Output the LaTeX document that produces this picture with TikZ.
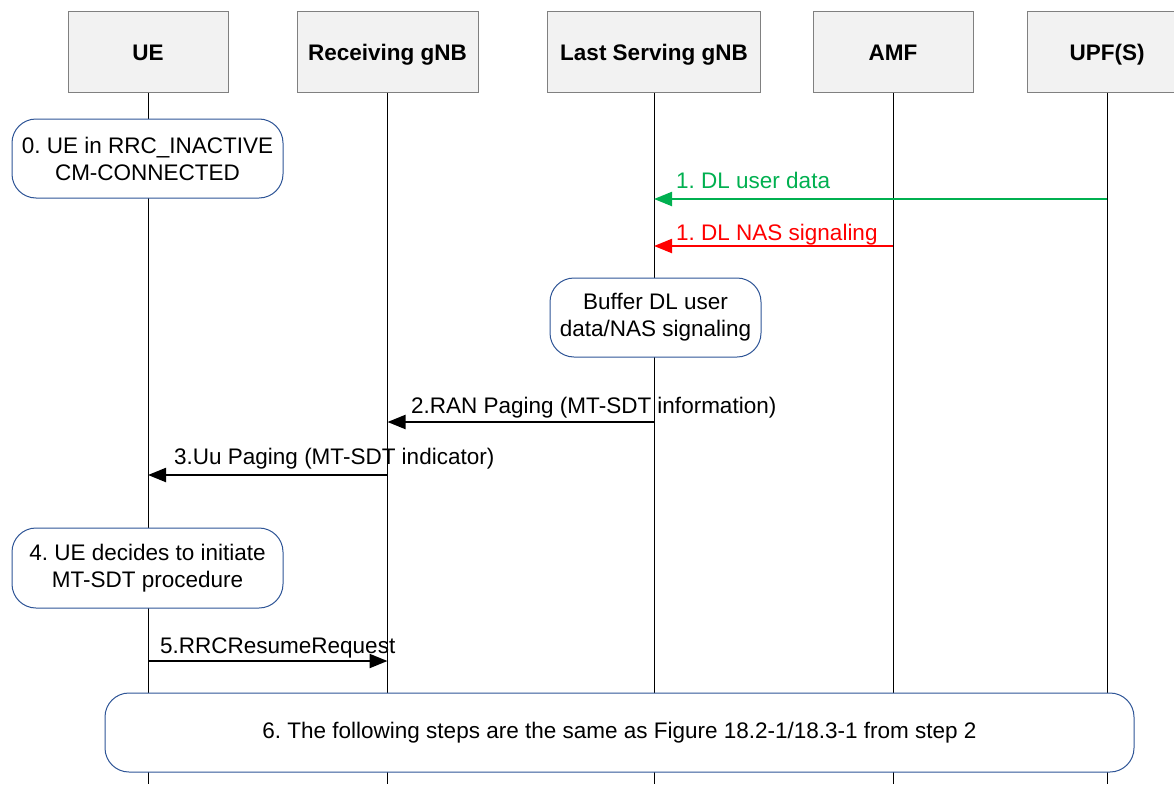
\documentclass[tikz,border=0pt]{standalone}
\usepackage{fontspec}
\setmainfont{Liberation Sans}
\usetikzlibrary{arrows.meta}
\frenchspacing
\definecolor{hdrfill}{HTML}{F2F2F2}
\definecolor{hdrdraw}{HTML}{808080}
\definecolor{stdraw}{HTML}{2F5597}
\definecolor{msggreen}{HTML}{00B050}
\definecolor{msgred}{HTML}{FF0000}
\begin{document}
\begin{tikzpicture}[x=1pt,y=-1pt,
  every node/.style={font=\fontsize{22.5}{27}\selectfont},
  hdr/.style={draw=hdrdraw,line width=1pt,fill=hdrfill,minimum height=80pt,inner sep=0pt,text height=16pt,text depth=0pt,font=\fontsize{22.5}{27}\selectfont\bfseries},
  lifeline/.style={draw=black,line width=1pt},
  state/.style={draw=stdraw,line width=1pt,fill=white,rounded corners=24pt,align=center,inner sep=0pt},
  msg/.style={line width=2.2pt,-{Triangle[length=18pt,width=14pt]}},
  lbl/.style={anchor=base west,inner sep=0pt}]
\useasboundingbox (0,0) rectangle (1174,784);
\clip (0,0) rectangle (1174,784);
\fill[white] (0,0) rectangle (1174,784);
% headers
\node[hdr,minimum width=160pt] (ue) at (148,52) {UE};
\node[hdr,minimum width=181pt] (rg) at (387.5,52) {Receiving gNB};
\node[hdr,minimum width=213pt] (ls) at (654,52) {Last Serving gNB};
\node[hdr,minimum width=160pt] (amf) at (893,52) {AMF};
\node[hdr,minimum width=160pt] (upf) at (1107,52) {UPF(S)};
% bottom coordinates
\coordinate (bot) at (0,784);
\foreach \n in {ue,rg,ls,amf,upf}{\draw[lifeline] (\n.south) -- (\n.south |- bot);}
% message y levels
\coordinate (y1) at (0,199);
\coordinate (y1b) at (0,246);
\coordinate (y2) at (0,422);
\coordinate (y3) at (0,475);
\coordinate (y5) at (0,661);
% states
\node[state,minimum width=271pt,minimum height=79pt] (s0) at (147.5,158.5) {0. UE in RRC\_INACTIVE\\CM-CONNECTED};
\node[state,minimum width=211pt,minimum height=79pt] (buf) at (655.5,317.5) {Buffer DL user\\data/NAS signaling};
\node[state,minimum width=271pt,minimum height=80pt] (s4) at (147.5,568) {4. UE decides to initiate\\MT-SDT procedure};
\node[state,minimum width=1029pt,minimum height=79pt] (s6) at (619.5,732.5) {6. The following steps are the same as Figure 18.2-1/18.3-1 from step 2};
% messages
\draw[msg,msggreen] (upf |- y1) -- (ls |- y1);
\node[lbl,text=msggreen] (l1a) at (676,188) {1. DL user data};
\draw[msg,msgred] (amf |- y1b) -- (ls |- y1b);
\node[lbl,text=msgred] (l1b) at (676,240) {1. DL NAS signaling};
\draw[msg] (ls |- y2) -- (rg |- y2);
\node[lbl] (l2) at (411,413) {2.RAN Paging (MT-SDT information)};
\draw[msg] (rg |- y3) -- (ue |- y3);
\node[lbl] (l3) at (174,464) {3.Uu Paging (MT-SDT indicator)};
\draw[msg] (ue |- y5) -- (rg |- y5);
\node[lbl] (l5) at (160,653) {5.RRCResumeRequest};
\end{tikzpicture}
\end{document}
